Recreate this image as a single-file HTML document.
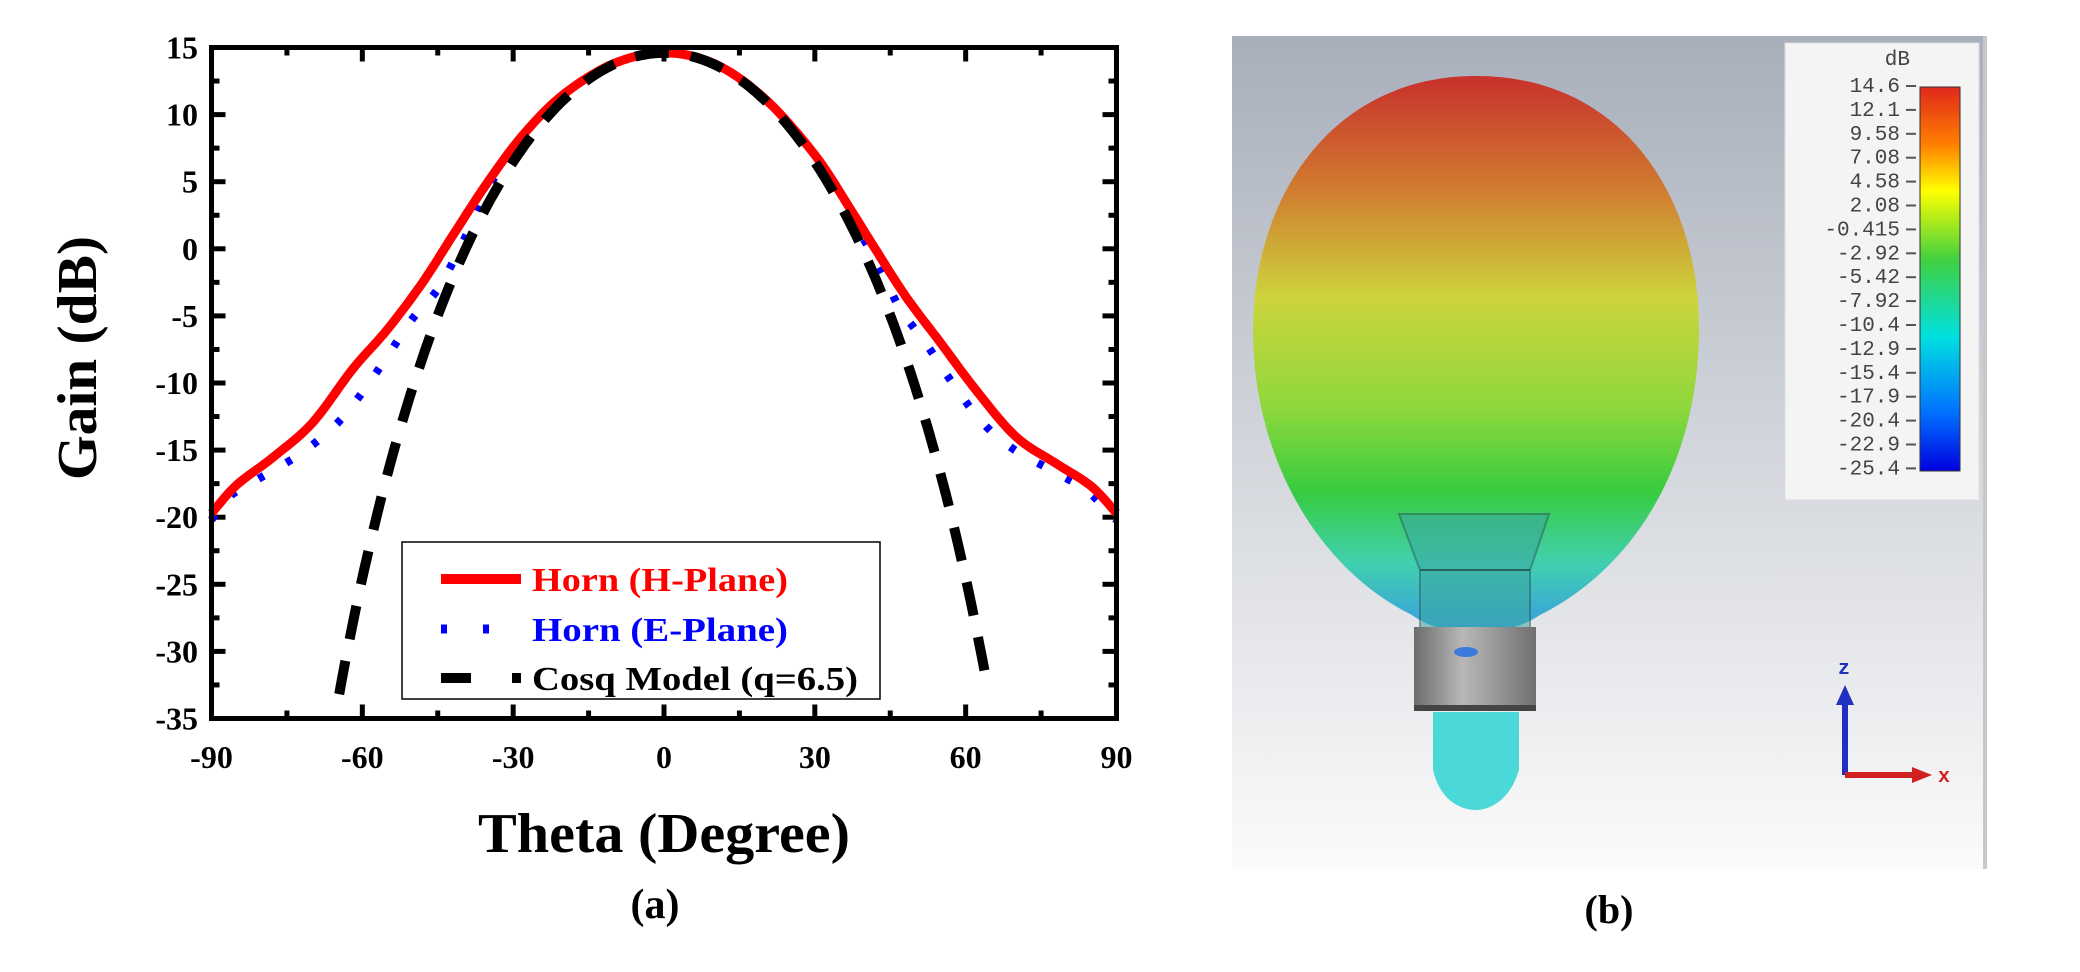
<!DOCTYPE html>
<html><head><meta charset="utf-8"><style>
html,body{margin:0;padding:0;background:#fff;}
svg{display:block;}
text{font-family:"Liberation Serif",serif;font-weight:bold;}
</style></head><body>
<svg id="s" width="2080" height="972" viewBox="0 0 2080 972" xmlns="http://www.w3.org/2000/svg">
<defs>
<linearGradient id="bg" x1="0" y1="0" x2="0" y2="1">
<stop offset="0" stop-color="#a8afbb"/><stop offset="0.5" stop-color="#d3d6dc"/><stop offset="1" stop-color="#fbfbfb"/>
</linearGradient>
<linearGradient id="lobe" gradientUnits="userSpaceOnUse" x1="0" y1="76" x2="0" y2="630">
<stop offset="0" stop-color="#c8302c"/><stop offset="0.2" stop-color="#d07a30"/><stop offset="0.4" stop-color="#cdd43c"/>
<stop offset="0.6" stop-color="#8ed83c"/><stop offset="0.75" stop-color="#38cc40"/><stop offset="0.88" stop-color="#40d0b0"/><stop offset="1" stop-color="#3a9ee0"/>
</linearGradient>
<linearGradient id="cb" x1="0" y1="0" x2="0" y2="1">
<stop offset="0" stop-color="#e0281c"/><stop offset="0.15" stop-color="#ff8000"/><stop offset="0.27" stop-color="#ffff00"/>
<stop offset="0.45" stop-color="#40d040"/><stop offset="0.65" stop-color="#00e0e0"/><stop offset="0.85" stop-color="#0070ff"/><stop offset="1" stop-color="#0000e0"/>
</linearGradient>
<linearGradient id="cyl" x1="0" y1="0" x2="1" y2="0">
<stop offset="0" stop-color="#6c6c6c"/><stop offset="0.4" stop-color="#b8b8b8"/><stop offset="1" stop-color="#707070"/>
</linearGradient>
</defs>

<rect x="1232" y="36" width="755" height="833" fill="url(#bg)"/>
<rect x="1983" y="36" width="4" height="833" fill="#c8c8c8"/>
<path d="M1476,76 C1625,76 1700,200 1699,330 C1698,470 1630,570 1540,615 C1520,628 1500,632 1476,632 C1450,632 1430,628 1412,615 C1320,570 1253,460 1253,330 C1253,200 1330,76 1476,76Z" fill="url(#lobe)"/>
<path d="M1399,514 L1549,514 L1530,570 L1530,628 L1420,628 L1420,570Z" fill="#3aa6a0" opacity="0.55" stroke="#2a5a5a" stroke-width="2"/>
<line x1="1420" y1="570" x2="1530" y2="570" stroke="#2a6060" stroke-width="2"/>
<path d="M1433,712 L1519,712 L1519,770 C1510,800 1490,810 1476,810 C1460,810 1440,800 1433,770Z" fill="#4ad8d8"/>
<rect x="1414" y="627" width="122" height="84" fill="url(#cyl)"/>
<rect x="1414" y="705" width="122" height="6" fill="#444"/>
<ellipse cx="1466" cy="652" rx="12" ry="5" fill="#3a7ad8"/>
<rect x="1785" y="43" width="194" height="457" fill="#f4f4f4" stroke="#ddd"/>
<rect x="1920" y="87" width="40" height="384" fill="url(#cb)" stroke="#333" stroke-width="1"/>
<text x="1910" y="65" font-size="21" fill="#444" text-anchor="end" style="font-family:'Liberation Mono',monospace;font-weight:normal">dB</text>
<g id="cbl"></g>
<line x1="1845" y1="775" x2="1845" y2="700" stroke="#2030c0" stroke-width="6"/>
<path d="M1836,705 L1845,685 L1854,705Z" fill="#2030c0"/>
<line x1="1845" y1="775" x2="1918" y2="775" stroke="#d02020" stroke-width="6"/>
<path d="M1912,767 L1932,775 L1912,783Z" fill="#d02020"/>
<text x="1838" y="674" font-size="20" fill="#2030c0" style="font-family:'Liberation Mono',monospace">z</text>
<text x="1938" y="782" font-size="20" fill="#d02020" style="font-family:'Liberation Mono',monospace">x</text>
<text x="1609" y="923" font-size="40" text-anchor="middle">(b)</text>

<g id="ticks"></g>
<g id="curves"></g>
<rect x="211.5" y="47.5" width="905" height="671" fill="none" stroke="#000" stroke-width="5"/>
<rect x="402" y="542" width="478" height="157" fill="#fff" stroke="#000" stroke-width="1.5"/>
<line x1="441" y1="579" x2="521" y2="579" stroke="#ff0000" stroke-width="10"/>
<line x1="441" y1="629" x2="521" y2="629" stroke="#0000ff" stroke-width="9" stroke-dasharray="6,36"/>
<line x1="441" y1="678" x2="521" y2="678" stroke="#000" stroke-width="10" stroke-dasharray="30,41"/>
<text x="532" y="591" font-size="34" fill="#ff0000" textLength="256" lengthAdjust="spacingAndGlyphs">Horn (H-Plane)</text>
<text x="532" y="641" font-size="34" fill="#0000ff" textLength="256" lengthAdjust="spacingAndGlyphs">Horn (E-Plane)</text>
<text x="532" y="690" font-size="34" fill="#000" textLength="326" lengthAdjust="spacingAndGlyphs">Cosq Model (q=6.5)</text>
<text x="664" y="852" font-size="56" text-anchor="middle" textLength="372" lengthAdjust="spacingAndGlyphs">Theta (Degree)</text>
<text x="655" y="918" font-size="42" text-anchor="middle">(a)</text>
<text transform="translate(96,358) rotate(-90)" font-size="56" text-anchor="middle" textLength="244" lengthAdjust="spacingAndGlyphs">Gain (dB)</text>
</svg>
<script>
var NS="http://www.w3.org/2000/svg";
function el(p,t,a,txt){var e=document.createElementNS(NS,t);for(var k in a)e.setAttribute(k,a[k]);if(txt!=null)e.textContent=txt;document.getElementById(p).appendChild(e);return e;}
var L=211.5,R=1116.5,T=47.5,B=718.5;
function X(d){return L+(d+90)*(R-L)/180;}
function Y(g){return T+(15-g)*(B-T)/50;}
for(var d=-90;d<=90;d+=15){var maj=d%30==0,len=maj?14:8;var x=X(d);
 el("ticks","line",{x1:x,y1:B,x2:x,y2:B-len,stroke:"#000","stroke-width":5});
 el("ticks","line",{x1:x,y1:T,x2:x,y2:T+len,stroke:"#000","stroke-width":5});
 if(maj)el("ticks","text",{x:x,y:768,"font-size":32,"text-anchor":"middle"},d);}
for(var g=-35;g<=15;g+=2.5){var maj=Math.abs(g%5)<0.01,len=maj?14:8;var y=Y(g);
 el("ticks","line",{x1:L,y1:y,x2:L+len,y2:y,stroke:"#000","stroke-width":5});
 el("ticks","line",{x1:R,y1:y,x2:R-len,y2:y,stroke:"#000","stroke-width":5});
 if(maj)el("ticks","text",{x:198,y:y+11,"font-size":32,"text-anchor":"end"},g);}
function path(pts){var s="";for(var i=0;i<pts.length;i++)s+=(i?"L":"M")+X(pts[i][0]).toFixed(1)+","+Y(pts[i][1]).toFixed(1);return s;}
function interp(pts,step){var out=[];for(var i=0;i<pts.length-1;i++){var a=pts[i],b=pts[i+1];var p0=pts[Math.max(0,i-1)],p3=pts[Math.min(pts.length-1,i+2)];for(var t=0;t<1;t+=step){var t2=t*t,t3=t2*t;var f=function(k){return 0.5*((2*a[k])+(-p0[k]+b[k])*t+(2*p0[k]-5*a[k]+4*b[k]-p3[k])*t2+(-p0[k]+3*a[k]-3*b[k]+p3[k])*t3);};out.push([f(0),f(1)]);}}out.push(pts[pts.length-1]);return out;}
var red=[[-90,-19.7],[-85,-17.6],[-78,-15.6],[-70,-13],[-62,-9],[-55,-6],[-48,-2.5],[-42,1],[-35,5],[-28,8.5],[-20,11.5],[-10,13.8],[0,14.6],[10,13.8],[20,11.2],[30,7],[37,3],[42,0],[48,-3.5],[55,-7],[62,-10.5],[70,-14],[78,-16],[85,-17.7],[90,-19.7]];
var blue=[[-90,-20.2],[-87,-18.6],[-80,-17],[-72,-15.2],[-65,-13],[-60,-10.7],[-55,-8],[-50,-5.2],[-45,-3],[-40,0.5],[-35,4.5],[-28,8.5],[-20,11.5],[-10,13.8],[0,14.6],[10,13.8],[20,11.2],[30,7],[37,2.5],[43,-1.5],[47,-4.5],[52,-7],[57,-9.8],[63,-12.8],[69,-14.8],[77,-16.5],[84,-18],[90,-20.2]];
el("curves","path",{d:path(interp(blue,0.1)),fill:"none",stroke:"#0000ff","stroke-width":8,"stroke-dasharray":"6,26"});
el("curves","path",{d:path(interp(red,0.1)),fill:"none",stroke:"#ff0000","stroke-width":9,"stroke-linejoin":"round"});
var blk=[];for(var t=-64.6;t<=64.6;t+=0.5){blk.push([t,14.6+130*Math.log10(Math.cos(t*Math.PI/180))]);}
el("curves","path",{d:path(blk),fill:"none",stroke:"#000","stroke-width":10,"stroke-dasharray":"34,22"});
var labs=["14.6","12.1","9.58","7.08","4.58","2.08","-0.415","-2.92","-5.42","-7.92","-10.4","-12.9","-15.4","-17.9","-20.4","-22.9","-25.4"];
for(var i=0;i<labs.length;i++){var y=92+i*23.9;
 var t=el("cbl","text",{x:1900,y:y,"font-size":21,fill:"#444","text-anchor":"end"},labs[i]);t.setAttribute("style","font-family:'Liberation Mono',monospace;font-weight:normal");
 el("cbl","line",{x1:1906,y1:y-6,x2:1916,y2:y-6,stroke:"#555","stroke-width":2});}
</script>
</body></html>
